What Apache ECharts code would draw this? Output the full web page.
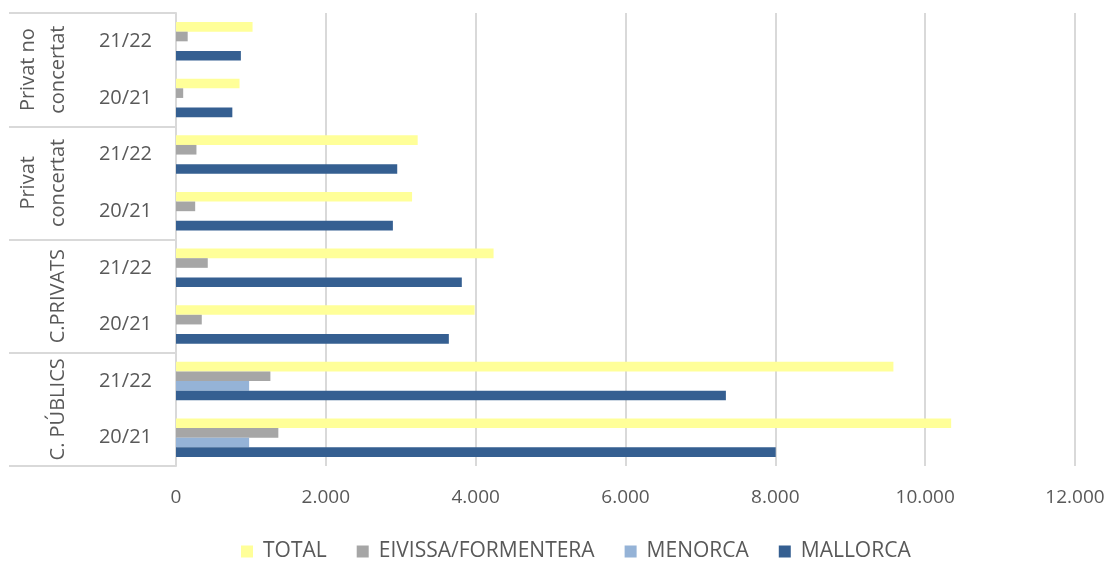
<!DOCTYPE html>
<html>
<head>
<meta charset="utf-8">
<script src="https://cdn.jsdelivr.net/npm/echarts@6/dist/echarts.min.js"></script>
<style>
    html, body { margin: 0; padding: 0; background: #fff; }
    #chart { width: 1110px; height: 561px; }
</style>
</head>
<body>
<div id="chart"></div>
<script>
    // categories, bottom to top
    var years = ['20/21', '21/22', '20/21', '21/22', '20/21', '21/22', '20/21', '21/22'];
    var groups = ['C. PÚBLICS', 'C.PRIVATS', 'Privat\nconcertat', 'Privat no\nconcertat'];
    var xTicks = [0, 2000, 4000, 6000, 8000, 10000, 12000];

    var mallorca = [8005, 7340, 3642, 3815, 2895, 2953, 752, 866];
    var menorca = [976, 976, 0, 0, 0, 0, 0, 0];
    var eivissa = [1366, 1260, 344, 424, 256, 273, 96, 156];
    var total = [10347, 9576, 3986, 4239, 3151, 3226, 848, 1022];

    var grey = '#595959';
    var lineGrey = '#d9d9d9';
    var font = "'Open Sans', sans-serif";

    function fmt(v) {
        return String(v).replace(/\B(?=(\d{3})+(?!\d))/g, '.');
    }

    var myChart = echarts.init(document.getElementById('chart'));
    var options = {
        animation: false,
        textStyle: { fontFamily: font },
        grid: { left: 176, right: 35, top: 13, bottom: 95 },
        legend: {
            top: 536,
            left: 236,
            icon: 'rect',
            itemWidth: 12,
            itemHeight: 12,
            itemGap: 30,
            textStyle: { color: grey, fontSize: 21, fontFamily: font, padding: [0, 0, 0, 5] },
            data: ['TOTAL', 'EIVISSA/FORMENTERA', 'MENORCA', 'MALLORCA']
        },
        xAxis: {
            type: 'value',
            min: xTicks[0],
            max: xTicks[xTicks.length - 1],
            interval: 2000,
            axisLine: { show: false },
            axisTick: { show: false },
            axisLabel: {
                color: grey,
                fontSize: 19,
                margin: 22,
                formatter: fmt
            },
            splitLine: { show: true, lineStyle: { color: lineGrey, width: 2 } }
        },
        yAxis: [
            {
                type: 'category',
                data: years,
                position: 'left',
                axisLine: { show: true, lineStyle: { color: lineGrey, width: 2 } },
                axisTick: { show: false },
                axisLabel: { color: grey, fontSize: 20, margin: 24 }
            },
            {
                type: 'category',
                data: groups,
                position: 'left',
                offset: 0,
                axisLine: { show: false },
                axisTick: {
                    show: true,
                    length: 167,
                    interval: 0,
                    lineStyle: { color: lineGrey, width: 2 }
                },
                axisLabel: {
                    rotate: 90,
                    interval: 0,
                    color: grey,
                    fontSize: 20,
                    lineHeight: 30,
                    margin: 103
                }
            }
        ],
        // first series is drawn at the top of each band
        series: [
            { name: 'TOTAL', type: 'bar', data: total, itemStyle: { color: '#ffff99' },
              barGap: '0%', barCategoryGap: '32%' },
            { name: 'EIVISSA/FORMENTERA', type: 'bar', data: eivissa, itemStyle: { color: '#a6a6a6' } },
            { name: 'MENORCA', type: 'bar', data: menorca, itemStyle: { color: '#95b3d7' } },
            { name: 'MALLORCA', type: 'bar', data: mallorca, itemStyle: { color: '#355f91' } }
        ]
    };
    myChart.setOption(options);
    window.addEventListener('resize', myChart.resize);
</script>
</body>
</html>
